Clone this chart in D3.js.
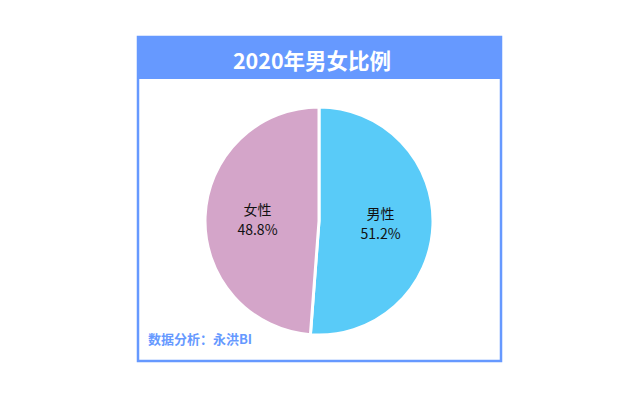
<!DOCTYPE html>
<html>
<head>
<meta charset="utf-8">
<script src="https://cdn.jsdelivr.net/npm/d3@7"></script>
<style>
body { margin: 0; background: #fff; }
text { font-family: "Noto Sans CJK SC", "Noto Sans", sans-serif; }
</style>
</head>
<body>
<script>
let categories = ["男性", "女性"];
let values = [51.2, 48.8];
let colors = ["#59cbf8", "#d4a5c9"];
let title = "2020年男女比例";
let footer = "数据分析：永洪BI";

let svg = d3.select("body").append("svg")
	.attr("width", 640)
	.attr("height", 400);

// frame
svg.append("rect")
	.attr("x", 138)
	.attr("y", 37)
	.attr("width", 363)
	.attr("height", 324)
	.attr("fill", "#fff")
	.attr("stroke", "#6699ff")
	.attr("stroke-width", 2.5);

svg.append("rect")
	.attr("x", 137)
	.attr("y", 36)
	.attr("width", 365)
	.attr("height", 43)
	.attr("fill", "#6699ff");

svg.append("text")
	.attr("x", 312)
	.attr("y", 59)
	.attr("text-anchor", "middle")
	.attr("dominant-baseline", "central")
	.attr("fill", "#fff")
	.attr("font-size", 21.5)
	.attr("font-weight", "bold")
	.text(title);

let cx = 319, cy = 221, radius = 114;

let pie = d3.pie()
	.sort(null)
	.value(d => d);

let arc = d3.arc()
	.innerRadius(0)
	.outerRadius(radius);

let labelArc = d3.arc()
	.innerRadius(radius * 0.54)
	.outerRadius(radius * 0.54);

let g = svg.append("g")
	.attr("transform", `translate(${cx},${cy})`);

let arcs = pie(values);

g.selectAll("path")
	.data(arcs)
	.enter()
	.append("path")
	.attr("d", arc)
	.attr("fill", (d, i) => colors[i])
	.attr("stroke", "#fff")
	.attr("stroke-width", 3);

let labels = g.selectAll("text.lbl")
	.data(arcs)
	.enter()
	.append("text")
	.attr("class", "lbl")
	.attr("text-anchor", "middle")
	.attr("font-size", 14)
	.attr("fill", "#111")
	.attr("transform", d => `translate(${labelArc.centroid(d)})`);

labels.append("tspan")
	.attr("x", 0)
	.attr("y", -4)
	.text((d, i) => categories[i]);

labels.append("tspan")
	.attr("x", 0)
	.attr("y", 16)
	.text(d => d.value.toFixed(1) + "%");

svg.append("text")
	.attr("x", 148)
	.attr("y", 344)
	.attr("fill", "#6699ff")
	.attr("font-size", 13)
	.attr("font-weight", "bold")
	.text(footer);
</script>
</body>
</html>
